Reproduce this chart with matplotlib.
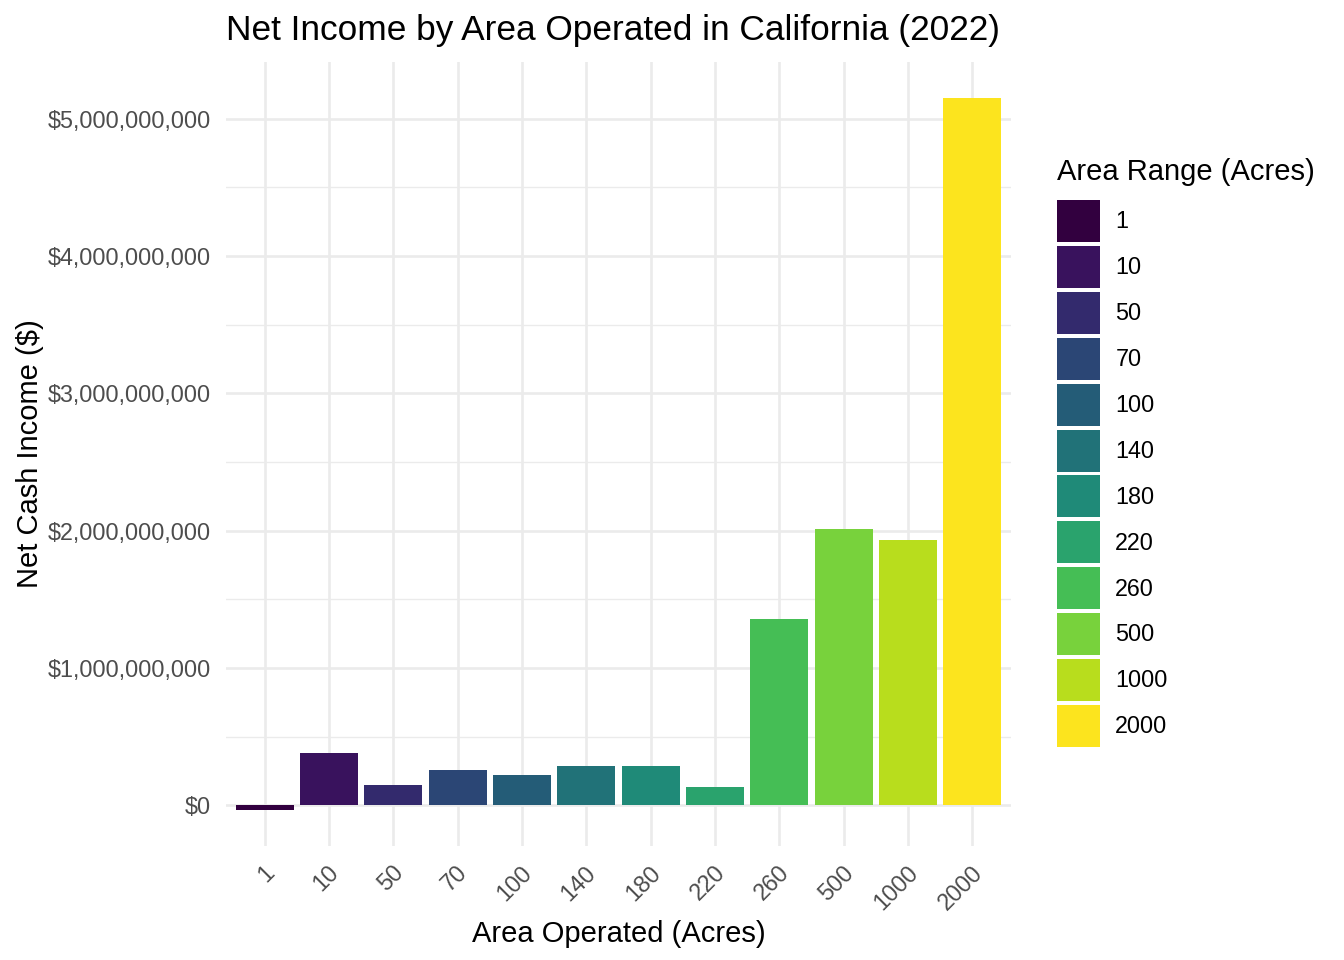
import numpy as np
import matplotlib
matplotlib.use("Agg")
import matplotlib.pyplot as plt
from matplotlib.ticker import FuncFormatter, MultipleLocator
from matplotlib.transforms import ScaledTranslation

# data
areas = ["1", "10", "50", "70", "100", "140", "180", "220", "260", "500", "1000", "2000"]
net_income = [-34e6, 381e6, 148e6, 257e6, 221e6, 286e6, 286e6, 133e6,
              1356e6, 2012e6, 1932e6, 5150e6]

# viridis-like fill as it appears in the reference
colors = ["#32003F", "#39125D", "#332A6D", "#2B4675", "#245C77", "#217278",
          "#1F8A78", "#2AA36D", "#45BE55", "#78D23C", "#B8DD1D", "#FCE41E"]

plt.rcParams["font.family"] = ["Liberation Sans", "DejaVu Sans"]

x = np.arange(len(areas))

fig = plt.figure(figsize=(13.44, 9.6), dpi=100)
ax = fig.add_axes([0.16815, 0.11927, 0.58408, 0.81583])

for i, (a, v) in enumerate(zip(areas, net_income)):
    ax.bar(x[i], v, width=0.9, color=colors[i], label=a, zorder=3, linewidth=0)

# ggplot-like 5% expansion
lo, hi = min(min(net_income), 0), max(net_income)
pad = (hi - lo) * 0.05
ax.set_ylim(lo - pad, hi + pad)
ax.set_xlim(-0.6, len(areas) - 0.4)

ax.yaxis.set_major_locator(MultipleLocator(1e9))
ax.yaxis.set_minor_locator(MultipleLocator(5e8))
ax.yaxis.set_major_formatter(FuncFormatter(lambda v, p: f"${v:,.0f}"))
ax.set_xticks(x, areas)

ax.grid(which="major", color="#EBEBEB", linewidth=1.9, zorder=0)
ax.grid(which="minor", axis="y", color="#EBEBEB", linewidth=1.0, zorder=0)
for s in ax.spines.values():
    s.set_visible(False)

ax.tick_params(axis="both", which="both", length=0, labelsize=16.8, labelcolor="#4D4D4D")
ax.tick_params(axis="y", pad=11)
ax.tick_params(axis="x", pad=20.5)
shift = ScaledTranslation(0.11, 0, fig.dpi_scale_trans)
for lab in ax.get_xticklabels():
    lab.set_rotation(45)
    lab.set_ha("right")
    lab.set_va("baseline")
    lab.set_rotation_mode("anchor")
    lab.set_transform(lab.get_transform() + shift)

ax.set_xlabel("Area Operated (Acres)", fontsize=21, labelpad=4)
ax.set_ylabel("Net Cash Income ($)", fontsize=21, labelpad=2.5)
ax.set_title("Net Income by Area Operated in California (2022)", fontsize=25.4,
             loc="left", pad=16)

leg = ax.legend(title="Area Range (Acres)", loc="upper left",
                bbox_to_anchor=(1057 / 1344, 1 - 158 / 960),
                bbox_transform=fig.transFigure, frameon=False,
                fontsize=16.8, title_fontsize=21, borderpad=0,
                handlelength=1.85, handleheight=2.39, labelspacing=0.17,
                handletextpad=0.65, borderaxespad=0, alignment="left")
leg._legend_box.sep = 10

fig.savefig("out.png", dpi=100)
